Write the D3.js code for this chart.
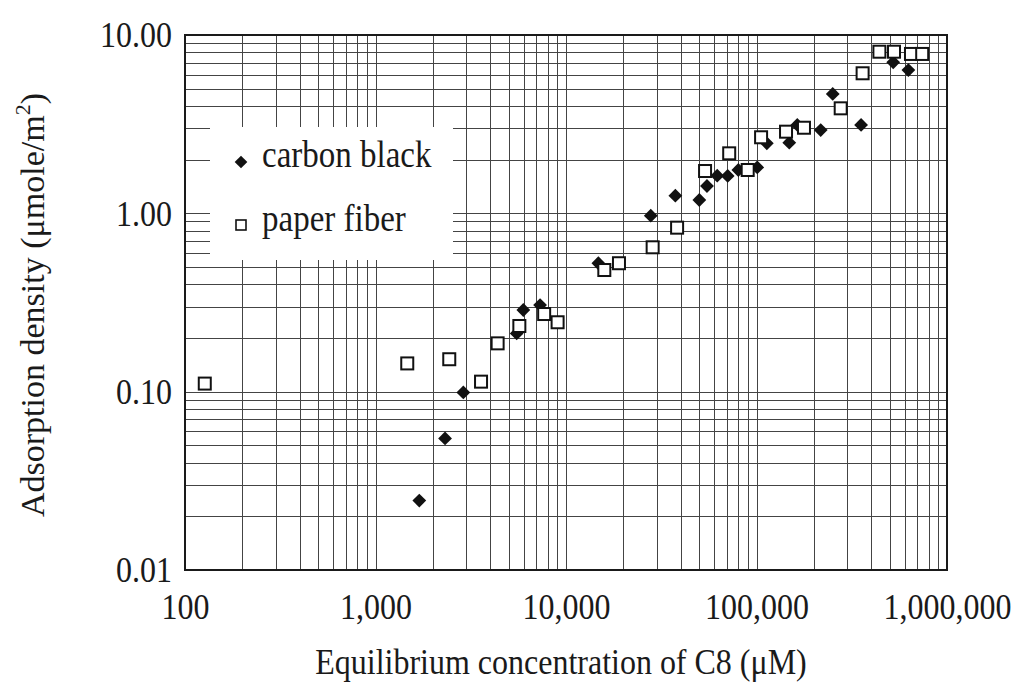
<!DOCTYPE html>
<html>
<head>
<meta charset="utf-8">
<script src="https://cdn.jsdelivr.net/npm/d3@7"></script>
<style>
  html, body { margin: 0; padding: 0; background: #fff; }
  svg { display: block; }
  text { font-family: "Liberation Serif", "Times New Roman", serif; fill: #1a1a1a; }
</style>
</head>
<body>
<svg id="chart" width="1021" height="698"></svg>
<script>
// ---- data ----
const carbonX = [1698, 2318, 2891, 5510, 5970, 7310, 14790, 27860, 37500, 50100, 54950, 62200, 70600, 80300, 100900, 113300, 148600, 163700, 217300, 251300, 354000, 522000, 627000];
const carbonY = [0.0245, 0.0547, 0.099, 0.212, 0.287, 0.306, 0.525, 0.97, 1.256, 1.188, 1.423, 1.626, 1.62, 1.75, 1.81, 2.47, 2.49, 3.13, 2.93, 4.67, 3.13, 7.03, 6.36];
const paperX = [127, 1468, 2439, 3581, 4376, 5690, 7680, 9035, 15890, 18970, 28500, 38300, 53700, 71900, 89900, 105700, 142900, 177500, 276700, 360600, 441700, 527000, 647000, 741000];
const paperY = [0.111, 0.144, 0.152, 0.1138, 0.1866, 0.2335, 0.2725, 0.245, 0.481, 0.525, 0.645, 0.831, 1.727, 2.17, 1.75, 2.67, 2.87, 3.02, 3.88, 6.10, 8.06, 8.06, 7.83, 7.83];
const xTickLabels = [100, 1000, 10000, 100000, 1000000];
const yTickLabels = [0.01, 0.1, 1, 10];
const seriesNames = ["carbon black", "paper fiber"];
const xTitle = "Equilibrium concentration of C8 (\u03bcM)";
const yTitleMain = "Adsorption density (\u03bcmole/m";
const yTitleSup = "2";

// ---- layout ----
const L = 185, R = 947, T = 35, B = 570;
const S = 1.13; // vertical stretch of the scanned lettering
const svg = d3.select("#chart");
const x = d3.scaleLog().domain([100, 1e6]).range([L, R]);
const y = d3.scaleLog().domain([0.01, 10]).range([B, T]);

function minorTicks(lo, hi) {
  const out = [];
  for (let d = lo; d < hi; d *= 10) for (let k = 1; k <= 9; k++) out.push(d * k);
  out.push(hi);
  return out;
}
const xGrid = minorTicks(100, 1e6);
const yGrid = minorTicks(0.01, 10);

// gridlines
const gx = svg.append("g").attr("transform", `translate(0,${B})`)
  .call(d3.axisBottom(x).tickValues(xGrid).tickSize(-(B - T)).tickFormat(""));
const gy = svg.append("g").attr("transform", `translate(${L},0)`)
  .call(d3.axisLeft(y).tickValues(yGrid).tickSize(-(R - L)).tickFormat(""));
[gx, gy].forEach(g => {
  g.select(".domain").remove();
  g.selectAll(".tick line").attr("stroke", "#444").attr("stroke-width", 1).attr("shape-rendering", "crispEdges");
});

// legend background (covers grid)
svg.append("rect").attr("x", 210).attr("y", 127).attr("width", 243).attr("height", 133).attr("fill", "#fff");

// frame
svg.append("rect").attr("x", L).attr("y", T).attr("width", R - L).attr("height", B - T)
  .attr("fill", "none").attr("stroke", "#1a1a1a").attr("stroke-width", 2);

// tick labels
const ax = svg.append("g").attr("transform", `translate(0,${B})`)
  .call(d3.axisBottom(x).tickValues(xTickLabels).tickSize(0).tickPadding(0).tickFormat(d3.format(",")));
ax.select(".domain").remove();
ax.selectAll("text").attr("font-size", 32).attr("dy", null).attr("y", 49 / S)
  .attr("transform", `scale(1,${S})`)
  .style("font-family", "Liberation Serif").attr("fill", "#1a1a1a");

const ay = svg.append("g").attr("transform", `translate(${L},0)`)
  .call(d3.axisLeft(y).tickValues(yTickLabels).tickSize(0).tickPadding(0).tickFormat(d3.format(".2f")));
ay.select(".domain").remove();
ay.selectAll("text").attr("font-size", 32).attr("x", -13).attr("dy", "0.33em")
  .attr("transform", `scale(1,${S})`)
  .style("font-family", "Liberation Serif").attr("fill", "#1a1a1a");

// axis titles
svg.append("text").attr("transform", `translate(561,674) scale(1,${S})`).attr("text-anchor", "middle")
  .attr("font-size", 32).text(xTitle);
const yt = svg.append("text").attr("transform", "translate(44,305) rotate(-90)")
  .attr("text-anchor", "middle").attr("font-size", 34);
yt.append("tspan").text(yTitleMain);
yt.append("tspan").attr("font-size", 22).attr("dy", -14).text(yTitleSup);
yt.append("tspan").attr("dy", 14).text(")");

// markers
const diamond = d3.symbol().type(d3.symbolSquare).size(95);
const carbon = carbonX.map((v, i) => ({ x: v, y: carbonY[i] }));
const paper = paperX.map((v, i) => ({ x: v, y: paperY[i] }));

svg.append("g").selectAll("path").data(carbon).join("path")
  .attr("d", diamond)
  .attr("transform", d => `translate(${x(d.x)},${y(d.y)}) rotate(45)`)
  .attr("fill", "#111");

svg.append("g").selectAll("rect").data(paper).join("rect")
  .attr("x", d => x(d.x) - 6).attr("y", d => y(d.y) - 6)
  .attr("width", 12).attr("height", 12)
  .attr("fill", "#fff").attr("stroke", "#111").attr("stroke-width", 2);

// legend
const lg = svg.append("g");
lg.append("path").attr("d", d3.symbol().type(d3.symbolSquare).size(80))
  .attr("transform", "translate(241,162) rotate(45)").attr("fill", "#111");
lg.append("rect").attr("x", 236).attr("y", 220).attr("width", 10).attr("height", 10)
  .attr("fill", "#fff").attr("stroke", "#111").attr("stroke-width", 1.6);
lg.append("text").attr("transform", `translate(262,167) scale(1,${S})`).attr("font-size", 33).text(seriesNames[0]);
lg.append("text").attr("transform", `translate(262,231) scale(1,${S})`).attr("font-size", 33).text(seriesNames[1]);
</script>
</body>
</html>
